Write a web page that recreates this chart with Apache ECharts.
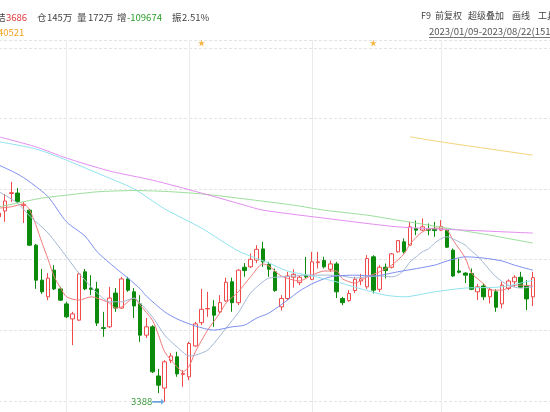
<!DOCTYPE html>
<html><head><meta charset="utf-8">
<script src="https://cdn.jsdelivr.net/npm/echarts@6/dist/echarts.min.js"></script>
<style>html,body{margin:0;padding:0;background:#fff;overflow:hidden;width:550px;height:412px;position:relative}#c{position:absolute;left:-1px;top:0;width:560px;height:472px}</style>
</head><body><div id="c"></div>
<script>
const dates = [
'2023-04-14','2023-04-17','2023-04-18','2023-04-19','2023-04-20','2023-04-21','2023-04-24','2023-04-25','2023-04-26','2023-04-27','2023-04-28',
'2023-05-04','2023-05-05','2023-05-08','2023-05-09','2023-05-10','2023-05-11','2023-05-12','2023-05-15','2023-05-16','2023-05-17','2023-05-18','2023-05-19','2023-05-22','2023-05-23','2023-05-24','2023-05-25','2023-05-26','2023-05-29','2023-05-30','2023-05-31',
'2023-06-01','2023-06-02','2023-06-05','2023-06-06','2023-06-07','2023-06-08','2023-06-09','2023-06-12','2023-06-13','2023-06-14','2023-06-15','2023-06-16','2023-06-19','2023-06-20','2023-06-21','2023-06-26','2023-06-27','2023-06-28','2023-06-29','2023-06-30',
'2023-07-03','2023-07-04','2023-07-05','2023-07-06','2023-07-07','2023-07-10','2023-07-11','2023-07-12','2023-07-13','2023-07-14','2023-07-17','2023-07-18','2023-07-19','2023-07-20','2023-07-21','2023-07-24','2023-07-25','2023-07-26','2023-07-27','2023-07-28','2023-07-31',
'2023-08-01','2023-08-02','2023-08-03','2023-08-04','2023-08-07','2023-08-08','2023-08-09','2023-08-10','2023-08-11','2023-08-14','2023-08-15','2023-08-16','2023-08-17','2023-08-18','2023-08-21','2023-08-22'];

const opens = [3832,3846,3888,3889,3859,3848,3764,3680,3640,3704, 3659,3623,3587,3584,3700,3661,3659,3566,3568,3649, 3613,3683,3652,3623,3548,3568,3450,3421,3487,3496, 3454,3448,3522,3578,3611,3616,3604,3630,3676,3626, 3711,3712,3728,3755,3718,3700,3616,3636,3687,3674, 3691,3682,3722,3727,3706,3719,3636,3631,3655,3678, 3664,3736,3658,3711,3711,3748,3772,3764,3804,3800, 3802,3803,3800,3800,3752,3702,3697,3696,3652,3666, 3640,3652,3623,3660,3676,3687,3666,3640];
const closes = [3841,3870,3890,3869,3862,3764,3680,3652,3685,3659, 3632,3592,3599,3695,3659,3658,3577,3564,3637,3613, 3683,3656,3618,3548,3568,3460,3428,3484,3498,3455, 3456,3528,3575,3610,3612,3596,3626,3675,3626,3704, 3703,3730,3754,3724,3706,3655,3636,3690,3694,3687, 3688,3724,3724,3712,3719,3652,3626,3648,3682,3683, 3732,3656,3711,3703,3743,3775,3748,3808,3800,3808, 3800,3799,3809,3759,3690,3699,3692,3658,3664,3640, 3658,3615,3668,3678,3687,3663,3635,3686];
const lows = [3827,3820,3868,3865,3817,3762,3659,3647,3632,3656, 3630,3589,3524,3582,3656,3644,3570,3544,3565,3604, 3611,3652,3589,3532,3541,3457,3409,3388,3481,3448, 3424,3440,3520,3572,3592,3568,3601,3628,3604,3620, 3688,3709,3721,3712,3688,3652,3607,3632,3662,3668, 3684,3680,3708,3708,3700,3637,3620,3628,3649,3668, 3659,3648,3652,3684,3708,3746,3744,3762,3788,3798, 3788,3784,3798,3757,3688,3696,3673,3656,3632,3632, 3624,3604,3612,3656,3664,3661,3608,3618];
const highs = [3848,3887,3916,3901,3868,3851,3767,3707,3697,3716, 3664,3628,3604,3697,3707,3692,3676,3604,3664,3661, 3688,3688,3661,3644,3589,3572,3467,3488,3505,3508, 3464,3532,3580,3659,3652,3632,3644,3686,3686,3706, 3721,3744,3764,3772,3724,3708,3644,3700,3706,3690, 3736,3748,3748,3736,3727,3724,3640,3656,3688,3695, 3740,3740,3716,3720,3745,3776,3780,3820,3823,3828, 3816,3820,3824,3804,3756,3732,3699,3708,3671,3672, 3663,3658,3676,3682,3692,3700,3680,3700];

// moving-average lines: [candle index, value]
const ma5 = [[0,3853],[2,3856],[4,3863],[5,3848],[6,3813],[7,3770],[8,3730],[9,3688],[10,3662],[11,3640],[13,3632],[15,3640],[16,3637],[18,3625],[19,3613],[20,3616],[22,3637],[23,3620],[25,3584],[26,3548],[27,3508],[29,3472],[30,3460],[31,3474],[32,3508],[34,3560],[36,3601],[37,3625],[39,3652],[41,3688],[43,3719],[44,3714],[46,3690],[49,3678],[51,3692],[53,3702],[55,3702],[56,3683],[58,3673],[60,3688],[62,3700],[64,3716],[66,3743],[67,3767],[69,3796],[71,3805],[73,3800],[74,3776],[76,3733],[77,3697],[79,3671],[80,3656],[82,3656],[84,3668],[85,3668],[87,3666]];
const ma10 = [[0,3892],[3,3865],[5,3834],[8,3793],[11,3736],[13,3697],[15,3664],[16,3649],[18,3628],[20,3628],[22,3637],[23,3625],[25,3592],[27,3548],[29,3520],[31,3498],[32,3500],[34,3512],[36,3546],[37,3565],[39,3602],[41,3649],[43,3676],[44,3685],[46,3688],[48,3690],[50,3692],[52,3692],[54,3692],[56,3690],[58,3685],[60,3688],[62,3690],[64,3688],[65,3692],[66,3704],[67,3724],[68,3736],[69,3748],[70,3755],[71,3769],[72,3779],[73,3784],[74,3779],[75,3772],[76,3764],[77,3750],[78,3738],[79,3721],[81,3688],[83,3668],[85,3661],[87,3664]];
const ma20 = [[0,3956],[3,3935],[5,3916],[8,3880],[11,3820],[14,3786],[16,3748],[19,3709],[21,3685],[23,3659],[24,3642],[27,3604],[29,3587],[32,3570],[35,3560],[38,3568],[40,3572],[42,3589],[44,3601],[47,3632],[49,3654],[51,3671],[54,3688],[58,3692],[61,3690],[65,3700],[71,3716],[73,3726],[76,3736],[79,3733],[82,3726],[84,3716],[87,3704]];
const ma60 = [[0,4012],[6,3995],[11,3968],[16,3937],[22,3899],[27,3851],[33,3805],[39,3750],[44,3721],[47,3702],[51,3690],[55,3676],[59,3659],[63,3644],[66,3640],[71,3652],[76,3661],[82,3664],[87,3680]];
const ma120 = [[0,3856],[3,3865],[7,3877],[11,3884],[16,3892],[22,3895],[27,3893],[33,3887],[40,3875],[48,3860],[53,3848],[60,3836],[65,3824],[73,3805],[80,3788],[87,3769]];
const ma150 = [[0,4024],[6,4000],[11,3973],[18,3942],[25,3920],[33,3889],[40,3860],[43,3848],[54,3827],[65,3808],[76,3800],[87,3793]];
const ma250 = [[67,4024],[72,4012],[78,3999],[87,3980]];
const eventIdx = [33, 61];

const Y_MIN = 3220.5, Y_MAX = 4256.4, Y_STEP = 169.5;
const FONT = '"Noto Sans CJK SC", "Noto Sans", sans-serif';
const cats = dates.concat(['', '', '']);
const candleData = opens.map((o, i) => [o, closes[i], lows[i], highs[i]]);

function txt(text, x, y, fill, size) {
  return { type: 'text', silent: true, style: { text: text, x: x + 1, y: y, fill: fill, font: (size || 9.5) + 'px ' + FONT, verticalAlign: 'middle' } };
}
function ma(data, color) {
  return { type: 'line', data: data, symbol: 'none', smooth: 0.25, z: 3,
    lineStyle: { width: 1, color: color }, emphasis: { disabled: true } };
}

const chart = echarts.init(document.getElementById('c'), null, { renderer: 'canvas' });
chart.setOption({
  animation: false,
  backgroundColor: '#ffffff',
  grid: { left: 0, right: 7.76, top: 40, bottom: 0.4 },
  xAxis: {
    type: 'category', data: cats, boundaryGap: false,
    axisLine: { show: false }, axisTick: { show: false }, axisLabel: { show: false },
    splitLine: { show: true,
      interval: function (i) { return i > 0 && i < dates.length && dates[i].slice(5, 7) !== dates[i - 1].slice(5, 7); },
      lineStyle: { color: '#ebebeb', width: 1 } }
  },
  yAxis: {
    type: 'value', min: Y_MIN, max: Y_MAX, interval: Y_STEP,
    axisLine: { show: false }, axisTick: { show: false }, axisLabel: { show: false },
    splitLine: { show: true, lineStyle: { color: '#e4e4e4', type: [3, 2] } }
  },
  series: [
    { type: 'candlestick', data: candleData, barWidth: 4, z: 2,
      itemStyle: { color: '#ffffff', color0: '#0b8a0b', borderColor: '#ef4b4b', borderColor0: '#0b8a0b', borderWidth: 1 },
      markPoint: {
        symbol: 'path://M0,4 L15,4 L15,1.5 L20,5 L15,8.5 L15,6 L0,6 Z',
        symbolSize: [12, 6], symbolOffset: [-6.5, 0],
        itemStyle: { color: '#6aa6dd' },
        label: { show: true, position: 'left', distance: 0, color: '#3d9a3d', fontSize: 9.5, fontFamily: FONT,
          formatter: function (p) { return String(p.value); } },
        data: [{ type: 'min', valueDim: 'lowest' }]
      }
    },
    ma(ma5, '#f07a7a'),
    ma(ma10, '#a3b6d6'),
    ma(ma20, '#7d8ff0'),
    ma(ma60, '#8fe1ef'),
    ma(ma120, '#9bde9b'),
    ma(ma150, '#e38ef0'),
    ma(ma250, '#f5d27a'),
    { type: 'scatter', data: eventIdx.map(i => [i, Y_MAX]), clip: false, z: 5,
      symbol: 'path://M5,0 L6.2,3.6 L10,3.6 L6.9,5.8 L8.1,9.5 L5,7.2 L1.9,9.5 L3.1,5.8 L0,3.6 L3.8,3.6 Z',
      symbolSize: 7, symbolOffset: [0, 3], itemStyle: { color: '#f5a31a' } }
  ],
  graphic: [
    txt('结', -4, 17, '#444'),
    txt('3686', 6, 17, '#e4393c'),
    txt('仓', 37, 17, '#444'), txt('145万', 47, 17, '#444'),
    txt('量', 77, 17, '#444'), txt('172万', 88, 17, '#444'),
    txt('增', 117, 17, '#444'), txt('-109674', 127, 17, '#2a9d2a'),
    txt('振', 172, 17, '#444'), txt('2.51%', 182, 17, '#444'),
    txt('40521', -2, 32, '#f0a020'),
    txt('F9', 421, 16, '#444', 9), txt('前复权', 435, 16, '#444', 9), txt('超级叠加', 468, 16, '#444', 9),
    txt('画线', 512, 16, '#444', 9), txt('工具', 538, 16, '#444', 9),
    txt('2023/01/09-2023/08/22(151日)', 429, 31, '#555'),
    { type: 'line', silent: true, shape: { x1: 430, y1: 37.5, x2: 570, y2: 37.5 }, style: { stroke: '#777', lineWidth: 1 } }
  ]
});
</script>
</body></html>
